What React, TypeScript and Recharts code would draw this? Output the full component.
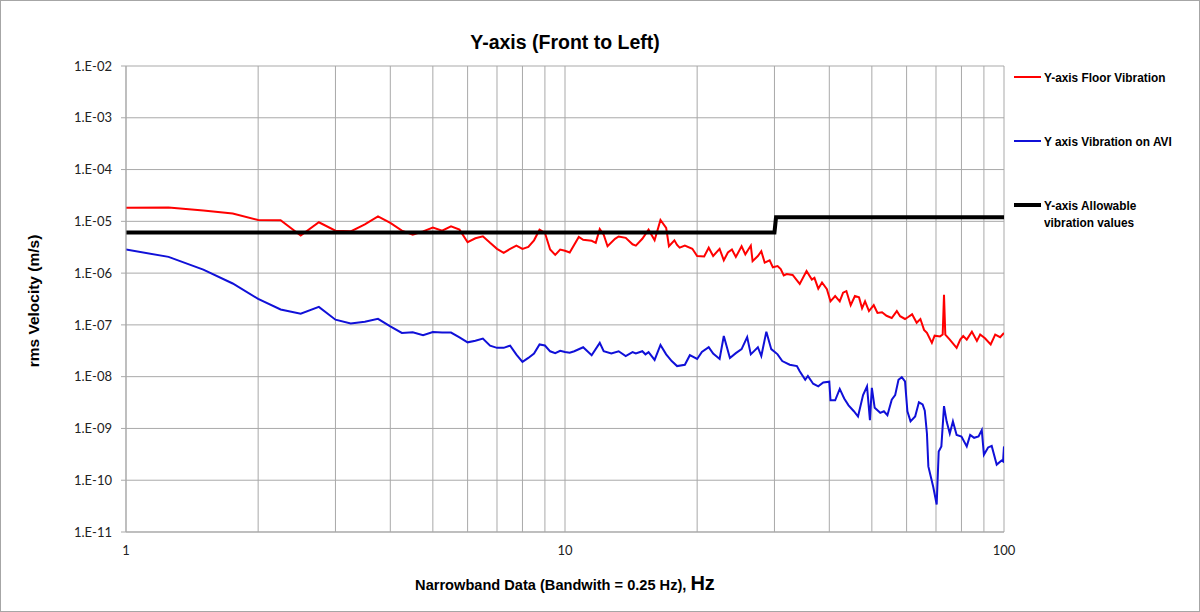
import { LineChart, Line, XAxis, YAxis, CartesianGrid } from "recharts";

// Y-axis floor vibration (red), narrowband 0.25 Hz
const floorFreq = [
  1, 1.25, 1.5, 1.75, 2, 2.25, 2.5, 2.75, 3, 3.25,
  3.5, 3.75, 4, 4.25, 4.5, 4.75, 5, 5.25, 5.5, 5.75,
  6, 6.25, 6.5, 6.75, 7, 7.25, 7.5, 7.75, 8, 8.25,
  8.5, 8.75, 9, 9.25, 9.5, 9.75, 10, 10.25, 10.75, 11,
  11.5, 11.75, 12, 12.25, 12.5, 13, 13.25, 13.75, 14.25, 14.5,
  15, 15.5, 16, 16.5, 17, 17.25, 17.75, 18, 18.25, 18.75,
  19.5, 20, 20.75, 21.25, 21.75, 22.5, 23, 23.5, 24, 24.5,
  25.25, 25.75, 26.5, 26.75, 27.5, 28, 28.5, 29.25, 29.75, 30.5,
  31, 31.5, 32, 33, 34.25, 35.5, 36.5, 37, 37.75, 38.5,
  39.5, 40.25, 41.25, 42.25, 43, 43.75, 44.75, 45.75, 46.75, 47.5,
  48.25, 49.25, 50.5, 51.5, 52.75, 54, 55.5, 57, 58, 59.5,
  60.5, 61.75, 63.25, 64.5, 65.75, 66.75, 68.5, 69.5, 71.5, 72.5,
  73, 73.5, 75.25, 78, 79.5, 80.75, 82.25, 84.5, 86.75, 88.25,
  90.5, 93.25, 95.5, 98, 100,
];
const floorVel = [
  1.82e-5, 1.85e-5, 1.62e-5, 1.41e-5, 1.06e-5, 1.05e-5, 5.3e-6, 9.6e-6, 6.6e-6, 6.4e-6,
  8.7e-6, 1.25e-5, 9.3e-6, 6.6e-6, 5.55e-6, 6.4e-6, 7.6e-6, 6.6e-6, 8.0e-6, 6.9e-6,
  3.95e-6, 4.7e-6, 5.15e-6, 3.84e-6, 2.94e-6, 2.46e-6, 2.94e-6, 3.4e-6, 2.94e-6, 3.2e-6,
  4.3e-6, 6.9e-6, 6.0e-6, 2.85e-6, 2.25e-6, 2.85e-6, 2.7e-6, 2.5e-6, 5.0e-6, 4.4e-6,
  4.2e-6, 3.85e-6, 7.1e-6, 5.5e-6, 3.3e-6, 4.6e-6, 5.1e-6, 4.8e-6, 3.6e-6, 3.4e-6,
  4.6e-6, 6.9e-6, 4.3e-6, 1.06e-5, 7.5e-6, 3.3e-6, 4.3e-6, 3.5e-6, 3.1e-6, 3.4e-6,
  2.95e-6, 2.14e-6, 2.1e-6, 3.1e-6, 2.14e-6, 2.95e-6, 1.77e-6, 2.5e-6, 2.85e-6, 2.05e-6,
  3.3e-6, 2.3e-6, 3.4e-6, 1.7e-6, 2.14e-6, 2.64e-6, 1.6e-6, 1.77e-6, 1.3e-6, 1.37e-6,
  1.2e-6, 9e-7, 9.6e-7, 9.2e-7, 6.2e-7, 1.1e-6, 7.5e-7, 8.1e-7, 5.0e-7, 6.6e-7,
  4.9e-7, 2.85e-7, 3.6e-7, 2.85e-7, 4.2e-7, 4.5e-7, 2.4e-7, 3.6e-7, 3.4e-7, 2.1e-7,
  2.85e-7, 1.85e-7, 2.4e-7, 1.7e-7, 1.75e-7, 1.5e-7, 1.36e-7, 1.85e-7, 1.47e-7, 1.3e-7,
  1.42e-7, 1.6e-7, 1.1e-7, 1.3e-7, 8.0e-8, 7.0e-8, 4.5e-8, 6.2e-8, 6.0e-8, 6.5e-8,
  3.8e-7, 6.5e-8, 5.2e-8, 3.6e-8, 5.2e-8, 6.1e-8, 5.2e-8, 7.4e-8, 4.9e-8, 6.5e-8,
  5.5e-8, 4.2e-8, 6.5e-8, 5.8e-8, 7.0e-8,
];

// Y axis vibration on AVI (blue)
const aviFreq = [
  1, 1.25, 1.5, 1.75, 2, 2.25, 2.5, 2.75, 3, 3.25,
  3.5, 3.75, 4, 4.25, 4.5, 4.75, 5, 5.25, 5.5, 5.75,
  6, 6.25, 6.5, 6.75, 7, 7.25, 7.5, 7.75, 8, 8.25,
  8.5, 8.75, 9, 9.25, 9.5, 9.75, 10, 10.25, 10.5, 11,
  11.5, 12, 12.25, 12.75, 13.25, 13.75, 14.25, 14.5, 15, 15.25,
  15.5, 16, 16.5, 17, 17.5, 18, 18.75, 19.25, 20, 20.5,
  21.25, 21.75, 22.5, 23, 23.75, 24.5, 25.25, 26, 26.5, 27.5,
  28, 28.75, 29.5, 30.5, 31.25, 32.5, 33.75, 34.25, 35.25, 35.75,
  36.75, 37.75, 38.75, 40, 40.25, 41.25, 42.25, 43.25, 44.25, 45.5,
  46.5, 47.75, 48.75, 49.5, 50, 50.75, 52.25, 53.25, 54.25, 55.5,
  56.5, 57.5, 58.5, 59.5, 60.25, 61.25, 62.75, 64, 65.25, 66,
  66.75, 67.25, 69, 70.25, 71, 72, 73, 74, 75.25, 76.5,
  78, 80, 82.25, 83.75, 85.5, 87.5, 89, 90, 92, 93.75,
  96.25, 98.75, 99.5, 100,
];
const aviVel = [
  2.85e-6, 2.06e-6, 1.17e-6, 6.3e-7, 3.18e-7, 1.98e-7, 1.65e-7, 2.23e-7, 1.26e-7, 1.06e-7,
  1.15e-7, 1.31e-7, 9.4e-8, 7.0e-8, 7.2e-8, 6.3e-8, 7.3e-8, 7.1e-8, 7.1e-8, 5.75e-8,
  4.6e-8, 4.95e-8, 5.45e-8, 3.98e-8, 3.6e-8, 3.6e-8, 3.98e-8, 2.67e-8, 1.93e-8, 2.3e-8,
  2.79e-8, 4.2e-8, 4.0e-8, 3.09e-8, 2.83e-8, 3.15e-8, 3.0e-8, 2.9e-8, 3.1e-8, 3.7e-8,
  2.6e-8, 4.5e-8, 3.1e-8, 2.8e-8, 3.1e-8, 2.5e-8, 2.97e-8, 2.8e-8, 3.1e-8, 2.7e-8,
  2.97e-8, 2.1e-8, 4.1e-8, 2.7e-8, 2.0e-8, 1.6e-8, 1.7e-8, 2.6e-8, 2.2e-8, 3.0e-8,
  3.7e-8, 2.8e-8, 2.2e-8, 6.1e-8, 2.3e-8, 2.85e-8, 3.4e-8, 5.8e-8, 2.7e-8, 3.7e-8,
  2.5e-8, 7.4e-8, 3.4e-8, 2.7e-8, 2.0e-8, 1.7e-8, 1.6e-8, 1.27e-8, 8.7e-9, 1.03e-8,
  7.3e-9, 6.5e-9, 7.7e-9, 8.0e-9, 3.5e-9, 3.5e-9, 5.8e-9, 3.8e-9, 2.8e-9, 2.15e-9,
  1.7e-9, 4.4e-9, 6.5e-9, 1.45e-9, 6.1e-9, 2.5e-9, 2.0e-9, 2.15e-9, 1.8e-9, 3.6e-9,
  4.4e-9, 8.7e-9, 9.8e-9, 8.1e-9, 2.15e-9, 1.37e-9, 1.7e-9, 3.2e-9, 2.9e-9, 2.2e-9,
  8.0e-10, 1.85e-10, 7.4e-11, 3.4e-11, 3.6e-10, 4.5e-10, 2.7e-9, 1.37e-9, 8.0e-10, 1.37e-9,
  7.5e-10, 7e-10, 4.5e-10, 7.5e-10, 6.6e-10, 7e-10, 9.3e-10, 3.1e-10, 4.3e-10, 4.6e-10,
  2.0e-10, 2.4e-10, 2.3e-10, 4.5e-10,
];

// Y-axis allowable vibration values (black step)
const allowFreq = [1, 30, 30.25, 100];
const allowVel = [6.1e-6, 6.1e-6, 1.2e-5, 1.2e-5];

const yTicks = [1e-11, 1e-10, 1e-9, 1e-8, 1e-7, 1e-6, 1e-5, 1e-4, 1e-3, 1e-2];
const xTicks = [1, 2, 3, 4, 5, 6, 7, 8, 9, 10, 20, 30, 40, 50, 60, 70, 80, 90, 100];
const xLabelTicks = [1, 10, 100];

const seriesNames = [
  "Y-axis Floor Vibration",
  "Y axis Vibration on AVI",
  "Y-axis Allowable vibration values",
];

const floorRows = floorFreq.map((f, i) => ({ f, floor: floorVel[i] }));
const aviRows = aviFreq.map((f, i) => ({ f, avi: aviVel[i] }));
const allowRows = allowFreq.map((f, i) => ({ f, allow: allowVel[i] }));

const fmtExp = (v: number) => {
  const e = Math.round(Math.log10(v));
  return `1.E${e < 0 ? "-" : "+"}${String(Math.abs(e)).padStart(2, "0")}`;
};

const NARROW = "'Liberation Sans Narrow', 'Arial Narrow', 'Liberation Sans', Arial, sans-serif";
const GRID = "#a9a9a9";

const LegendItem = ({ top, color, width, lines }: { top: number; color: string; width: number; lines: string[] }) => (
  <div style={{ position: "absolute", left: 1013, top, display: "flex", alignItems: "flex-start" }}>
    <div style={{ width: 27, height: width, background: color, marginTop: 8 - width / 2, marginRight: 3 }} />
    <div
      style={{
        fontFamily: NARROW,
        fontWeight: "bold",
        fontSize: 13,
        lineHeight: "17px",
        color: "#000",
        transform: "scaleX(0.91)",
        transformOrigin: "left center",
        whiteSpace: "nowrap",
      }}>
      {lines.map((l) => (
        <div key={l}>{l}</div>
      ))}
    </div>
  </div>
);

export default function App() {
  return (
    <div
      style={{
        position: "absolute",
        left: 0,
        top: 0,
        width: 1200,
        height: 612,
        background: "#fff",
        border: "1px solid #a6a6a6",
        boxSizing: "border-box",
        overflow: "hidden",
      }}>
      <div style={{ position: "absolute", left: -1, top: -1 }}>
        <LineChart width={1200} height={612} margin={{ top: 66, right: 196, bottom: 50, left: 0 }}>
          <CartesianGrid stroke={GRID} />
          <XAxis
            type="number"
            dataKey="f"
            scale="log"
            domain={[1, 100]}
            ticks={xTicks}
            interval={0}
            allowDataOverflow
            height={30}
            tickLine={false}
            tickMargin={8}
            axisLine={{ stroke: GRID }}
            tick={{ fill: "#222", fontSize: 13, fontFamily: "Lato" }}
            tickFormatter={(v: number) => (xLabelTicks.includes(v) ? String(v) : "")}
          />
          <YAxis
            type="number"
            scale="log"
            domain={[1e-11, 1e-2]}
            ticks={yTicks}
            interval={0}
            allowDataOverflow
            width={126}
            tickSize={5}
            tickMargin={9}
            axisLine={{ stroke: GRID }}
            tickLine={{ stroke: GRID }}
            tick={{ fill: "#222", fontSize: 13, fontFamily: "Lato" }}
            tickFormatter={fmtExp}
          />
          <Line
            data={floorRows}
            dataKey="floor"
            name={seriesNames[0]}
            type="linear"
            stroke="#ff0000"
            strokeWidth={2}
            dot={false}
            isAnimationActive={false}
          />
          <Line
            data={aviRows}
            dataKey="avi"
            name={seriesNames[1]}
            type="linear"
            stroke="#1010d8"
            strokeWidth={2}
            dot={false}
            isAnimationActive={false}
          />
          <Line
            data={allowRows}
            dataKey="allow"
            name={seriesNames[2]}
            type="linear"
            stroke="#000"
            strokeWidth={4}
            dot={false}
            isAnimationActive={false}
          />
        </LineChart>
      </div>

      {/* title */}
      <div
        style={{
          position: "absolute",
          left: 0,
          width: 1128,
          top: 29,
          textAlign: "center",
          fontFamily: NARROW,
          fontWeight: "bold",
          fontSize: 19.5,
          lineHeight: "24px",
        }}>
        Y-axis (Front to Left)
      </div>

      {/* x axis title */}
      <div
        style={{
          position: "absolute",
          left: 0,
          width: 1128,
          top: 570,
          textAlign: "center",
          fontFamily: NARROW,
          fontWeight: "bold",
          fontSize: 14.6,
          lineHeight: "24px",
        }}>
        Narrowband Data (Bandwith = 0.25 Hz), <span style={{ fontSize: 20 }}>Hz</span>
      </div>

      {/* y axis title */}
      <div
        style={{
          position: "absolute",
          left: 33 - 150,
          top: 300 - 10,
          width: 300,
          height: 20,
          lineHeight: "20px",
          textAlign: "center",
          transform: "rotate(-90deg)",
          fontFamily: NARROW,
          fontWeight: "bold",
          fontSize: 15.5,
        }}>
        rms Velocity (m/s)
      </div>

      <LegendItem top={68} color="#ff0000" width={2} lines={[seriesNames[0]]} />
      <LegendItem top={132} color="#1010d8" width={2} lines={[seriesNames[1]]} />
      <LegendItem top={196} color="#000" width={4} lines={["Y-axis Allowable", "vibration values"]} />
    </div>
  );
}
